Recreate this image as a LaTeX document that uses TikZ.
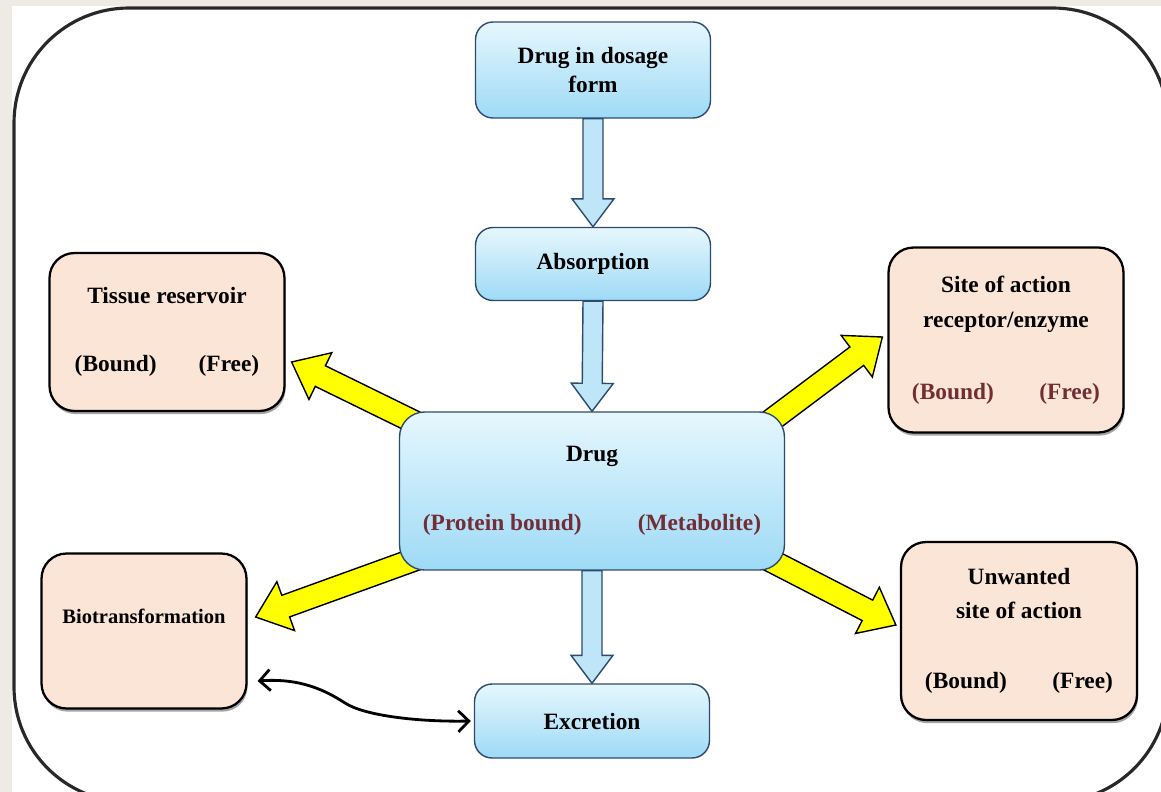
\documentclass[tikz,border=0pt]{standalone}
\usepackage{fontspec}
\setmainfont{Liberation Serif}
\usetikzlibrary{calc,shadows,arrows.meta}
\pgfdeclarelayer{background}
\pgfsetlayers{background,main}

\definecolor{paper}{RGB}{238,235,228}
\definecolor{frameline}{RGB}{40,40,40}
\definecolor{bluetop}{RGB}{230,247,253}
\definecolor{bluebot}{RGB}{158,218,246}
\definecolor{blueline}{RGB}{45,75,110}
\definecolor{arrowblue}{RGB}{190,229,248}
\definecolor{peach}{RGB}{251,229,214}
\definecolor{boundred}{RGB}{115,45,55}
\definecolor{arrowyellow}{RGB}{255,255,0}

% fat arrow: style, from, to, half shaft, half head, head length
\newcommand\blockarrow[6]{%
  \coordinate (bas) at (#2);
  \coordinate (bae) at (#3);
  \coordinate (bah) at ($(bae)!#6!(bas)$);
  \filldraw[#1] ($(bas)!#4!90:(bae)$) -- ($(bah)!#4!-90:(bas)$) -- ($(bah)!#5!-90:(bas)$)
    -- (bae) -- ($(bah)!#5!90:(bas)$) -- ($(bah)!#4!90:(bas)$) -- ($(bas)!#4!-90:(bae)$) -- cycle;
}

\begin{document}
\begin{tikzpicture}[x=0.02cm,y=-0.02cm,
  bluebox/.style={draw=blueline,line width=0.8pt,rounded corners=0.35cm,top color=bluetop,bottom color=bluebot,
    align=center,minimum width=4.7cm,font=\bfseries\fontsize{13.3}{17}\selectfont},
  peachbox/.style={draw=black,line width=1.3pt,rounded corners=0.5cm,fill=peach,align=center,
    font=\bfseries\fontsize{13.3}{17}\selectfont,
    drop shadow={shadow xshift=0.6pt,shadow yshift=-1.8pt,opacity=0.7}},
  yellowarrow/.style={draw=black,line width=0.8pt,fill=arrowyellow},
  bluearrow/.style={draw=blueline,line width=0.8pt,fill=arrowblue}]
  \useasboundingbox (0,0) rectangle (1161,792);

  % page and outer frame
  \begin{pgfonlayer}{background}
    \fill[paper] (0,0) rectangle (1161,792);
    \fill[white] (12,6) rectangle (1161,792);
    \draw[frameline,line width=1.8pt,rounded corners=2.3cm] (14,8) rectangle (1168,802);
  \end{pgfonlayer}

  % main chain
  \node[bluebox,minimum height=1.92cm] (dose) at (593,70) {Drug in dosage\\form};
  \node[bluebox,minimum height=1.46cm] (absorb) at (593,264) {Absorption};
  \node[bluebox,minimum width=7.7cm,minimum height=3.16cm,rounded corners=0.5cm] (drug) at (592,491)
    {Drug\\[22pt]{\color{boundred}(Protein bound)\hspace{32pt}(Metabolite)}};
  \node[bluebox,minimum height=1.48cm] (exc) at (592,721) {Excretion};

  % side boxes
  \node[peachbox,minimum width=4.7cm,minimum height=3.16cm] (tissue) at (167,332)
    {Tissue reservoir\\[22pt](Bound)\hspace{24pt}(Free)};
  \node[peachbox,minimum width=4.7cm,minimum height=3.7cm] (site) at (1006,340)
    {Site of action\\[3pt]receptor/enzyme\\[24pt]{\color{boundred}(Bound)\hspace{26pt}(Free)}};
  \node[peachbox,minimum width=4.72cm,minimum height=3.56cm] (unwanted) at (1019,631)
    {Unwanted\\[2pt]site of action\\[23pt](Bound)\hspace{26pt}(Free)};
  \node[peachbox,minimum width=4.1cm,minimum height=3.1cm,font=\bfseries\fontsize{11.7}{17}\selectfont] (bio) at (144,631)
    {Biotransformation\\~};

  \begin{pgfonlayer}{background}
    \blockarrow{bluearrow}{dose.south}{absorb.north}{0.2cm}{0.42cm}{0.56cm}
    \blockarrow{bluearrow}{absorb.south}{drug.north}{0.2cm}{0.42cm}{0.56cm}
    \blockarrow{bluearrow}{drug.south}{exc.north}{0.2cm}{0.42cm}{0.56cm}
    \blockarrow{yellowarrow}{$(drug.north west)+(18,12)$}{$(tissue.east)+(6,30)$}{0.23cm}{0.52cm}{0.64cm}
    \blockarrow{yellowarrow}{$(drug.north east)+(-18,12)$}{$(site.west)+(-5,-3)$}{0.23cm}{0.52cm}{0.64cm}
    \blockarrow{yellowarrow}{$(drug.south west)+(18,-12)$}{$(bio.east)+(8,-14)$}{0.23cm}{0.52cm}{0.64cm}
    \blockarrow{yellowarrow}{$(drug.south east)+(-18,-12)$}{$(unwanted.west)+(-4,-6)$}{0.23cm}{0.52cm}{0.64cm}
  \end{pgfonlayer}

  \draw[line width=1.6pt,{Straight Barb[length=6pt,width=12pt]}-{Straight Barb[length=6pt,width=12pt]}]
    ($(bio.east)+(10,50)$) .. controls (300,678) and (325,690) .. (345,703)
    .. controls (365,716) and (420,722) .. ($(exc.west)+(-3,0)$);
\end{tikzpicture}
\end{document}
